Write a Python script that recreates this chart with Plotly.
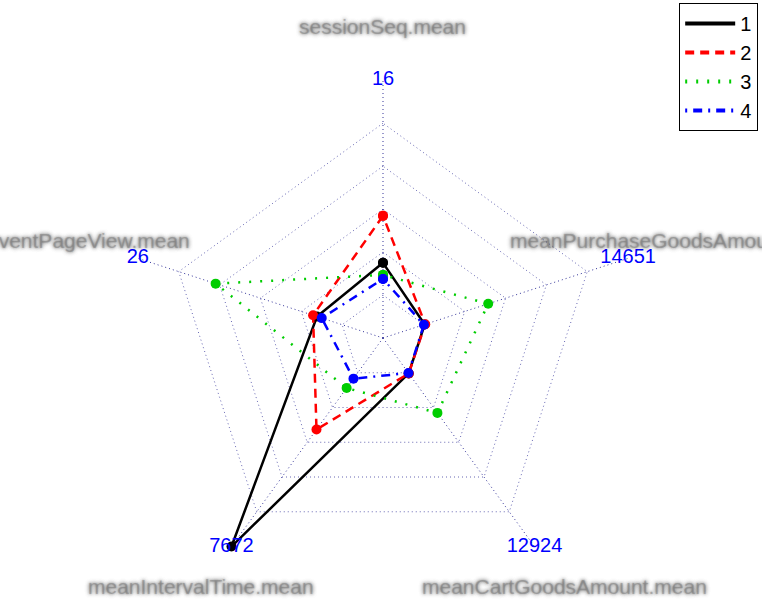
import math
import plotly.graph_objects as go

# axes in fmsb order (top first, then counterclockwise)
axes = ['sessionSeq.mean', 'eventPageView.mean', 'meanIntervalTime.mean',
        'meanCartGoodsAmount.mean', 'meanPurchaseGoodsAmount.mean']
axis_max = [16, 26, 7672, 12924, 14651]
axis_min = [0, 0, 0, 0, 0]
max_labels = ['16', '26', '7672', '12924', '14651']

groups = ['1', '2', '3', '4']
g1 = [2.4, 3.2, 7672, 50, 60]
g2 = [5.9, 3.7, 2508, 50, 100]
g3 = [1.5, 16.1, 675, 2985, 4615]
g4 = [1.2, 2.6, 261, 20, 5]
series = [g1, g2, g3, g4]

colors = ['black', '#FF0000', '#00CD00', '#0000FF']
dashes = ['solid', '9px,6px', '2px,9px', '2px,6px,9px,6px']

seg = 5
W, H = 762, 609
cx, cy, R = 383, 338, 258   # centre / radius of the web in pixels


def scale(vals):
    # fmsb style: min sits on the first ring, max on the outer one
    out = []
    for v, lo, hi in zip(vals, axis_min, axis_max):
        out.append(((v - lo) / (hi - lo) * seg + 1) / (seg + 1))
    return out


fig = go.Figure()

for name, vals, col, dash in zip(groups, series, colors, dashes):
    r = scale(vals)
    fig.add_trace(go.Scatterpolar(
        r=r + r[:1], theta=axes + axes[:1], name=name,
        mode='lines+markers', showlegend=False,
        line=dict(color=col, width=2.5, dash=dash),
        marker=dict(color=col, size=10),
        cliponaxis=False
    ))
    # legend entry: line only, like the R legend
    fig.add_trace(go.Scatterpolar(
        r=[None], theta=[axes[0]], name=name, mode='lines',
        line=dict(color=col, width=4, dash=dash)
    ))

# max values at the vertices
fig.add_trace(go.Scatterpolar(
    r=[1] * len(axes), theta=axes, mode='text', text=max_labels,
    textposition='middle center', showlegend=False, hoverinfo='skip',
    textfont=dict(family='Liberation Sans, Arial', size=20, color='#0000FF'),
    cliponaxis=False
))

# variable names (blurred in the original), at 1.2 x radius like fmsb
for i, name in enumerate(axes):
    ang = math.pi / 2 + 2 * math.pi * i / len(axes)
    px_x = cx + 1.2 * R * math.cos(ang)
    px_y = cy - 1.2 * R * math.sin(ang) - 2
    fig.add_annotation(
        x=px_x / W, y=1 - px_y / H, xref='paper', yref='paper',
        text=name, showarrow=False, xanchor='center', yanchor='middle',
        font=dict(family='Liberation Sans, Arial', size=21,
                  color='rgba(110,110,110,0.35)',
                  shadow='0px 0px 4px rgba(30,30,30,1), 0px 0px 4px rgba(30,30,30,1), '
                         '0px 0px 2px rgba(60,60,60,1)')
    )

grid_col = 'rgba(0,0,128,0.6)'
fig.update_layout(
    width=W, height=H,
    margin=dict(l=0, r=0, t=0, b=0),
    paper_bgcolor='white',
    showlegend=True,
    legend=dict(x=0.995, y=0.995, xanchor='right', yanchor='top',
                bgcolor='white', bordercolor='black', borderwidth=1,
                itemwidth=50,
                font=dict(family='Liberation Sans, Arial', size=20, color='black')),
    polar=dict(
        domain=dict(x=[(cx - R) / W, (cx + R) / W],
                    y=[1 - (cy + R) / H, 1 - (cy - R) / H]),
        bgcolor='white',
        gridshape='linear',
        radialaxis=dict(range=[0, 1.001], tickvals=[(i + 1) / (seg + 1) for i in range(seg + 1)],
                        showticklabels=False, ticks='', showline=False,
                        gridcolor=grid_col, griddash='1px,3px', gridwidth=1),
        angularaxis=dict(categoryorder='array', categoryarray=axes,
                         rotation=90, direction='counterclockwise',
                         showticklabels=False, ticks='', showline=False,
                         gridcolor='rgba(0,0,128,0.8)', griddash='1px,3px', gridwidth=1)
    )
)

# the page body has a default 8px margin; drop it so the figure fills the window
fig.write_html("out.html", config={'displayModeBar': False},
               post_script="document.body.style.margin='0';")
